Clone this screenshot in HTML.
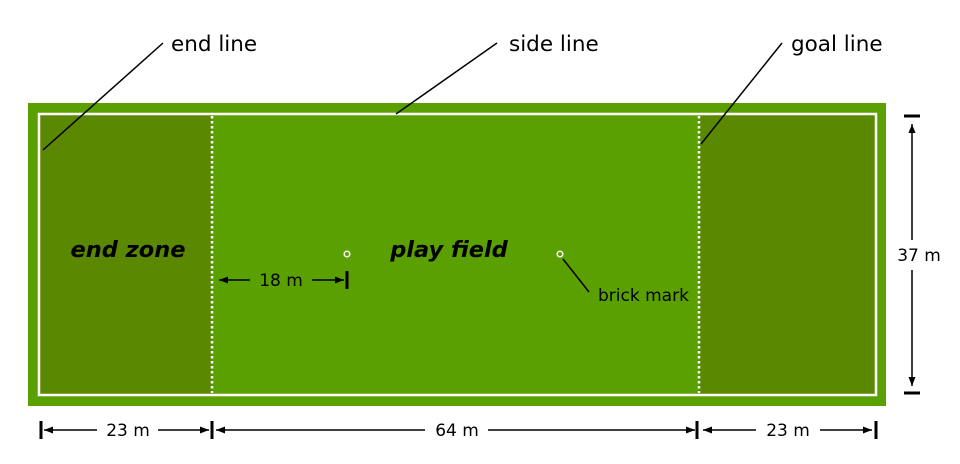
<!DOCTYPE html>
<html><head><meta charset="utf-8"><style>body{margin:0;background:#fff}svg{display:block}</style></head><body>
<svg width="960" height="464" viewBox="0 0 960 464" xmlns="http://www.w3.org/2000/svg" font-family="DejaVu Sans, Liberation Sans, sans-serif">
<defs><marker id="a" markerWidth="9" markerHeight="7" refX="9" refY="3.5" orient="auto" markerUnits="userSpaceOnUse"><path d="M0,0 L9,3.5 L0,7 Z" fill="#000"/></marker></defs>
<rect x="28" y="103" width="858" height="303" fill="#5aa000"/>
<rect x="39" y="114" width="173" height="281" fill="#5a8800"/>
<rect x="699" y="114" width="177" height="281" fill="#5a8800"/>
<rect x="39" y="114" width="837" height="281" fill="none" stroke="#fff" stroke-width="2.5"/>
<line x1="212" y1="116" x2="212" y2="393" stroke="#fff" stroke-width="2.5" stroke-dasharray="2.5,2.5"/>
<line x1="699" y1="116" x2="699" y2="393" stroke="#fff" stroke-width="2.5" stroke-dasharray="2.5,2.5"/>
<circle cx="347" cy="254" r="2.8" fill="none" stroke="#fff" stroke-width="1.5"/>
<circle cx="560" cy="254" r="2.8" fill="none" stroke="#fff" stroke-width="1.5"/>
<g stroke="#000" stroke-width="1.5">
<line x1="163" y1="43" x2="43" y2="150"/>
<line x1="497" y1="43" x2="396" y2="114"/>
<line x1="782" y1="43" x2="701" y2="144"/>
<line x1="563" y1="259" x2="589" y2="292"/>
</g>
<g font-size="21.5" fill="#000">
<text x="171" y="51">end line</text>
<text x="509" y="51">side line</text>
<text x="791" y="51">goal line</text>
</g>
<g font-size="22.5" font-weight="bold" font-style="italic" fill="#000">
<text x="128" y="257" text-anchor="middle">end zone</text>
<text x="449" y="257" text-anchor="middle">play field</text>
</g>
<text x="598" y="301" font-size="17">brick mark</text>
<g stroke="#000" stroke-width="1.5">
<line x1="250" y1="280" x2="219" y2="280" marker-end="url(#a)"/>
<line x1="312" y1="280" x2="344" y2="280" marker-end="url(#a)"/>
<line x1="912" y1="240" x2="912" y2="124" marker-end="url(#a)"/>
<line x1="912" y1="270" x2="912" y2="386" marker-end="url(#a)"/>
<line x1="97" y1="430" x2="44" y2="430" marker-end="url(#a)"/>
<line x1="158" y1="430" x2="209" y2="430" marker-end="url(#a)"/>
<line x1="425" y1="430" x2="216" y2="430" marker-end="url(#a)"/>
<line x1="488" y1="430" x2="695" y2="430" marker-end="url(#a)"/>
<line x1="756" y1="430" x2="703" y2="430" marker-end="url(#a)"/>
<line x1="820" y1="430" x2="872" y2="430" marker-end="url(#a)"/>
</g>
<g stroke="#000" stroke-width="3">
<line x1="347" y1="271" x2="347" y2="289"/>
<line x1="41" y1="421" x2="41" y2="439"/>
<line x1="212" y1="421" x2="212" y2="439"/>
<line x1="697" y1="421" x2="697" y2="439"/>
<line x1="876" y1="421" x2="876" y2="439"/>
<line x1="904" y1="116" x2="920" y2="116"/>
<line x1="904" y1="393" x2="920" y2="393"/>
</g>
<g font-size="17" fill="#000" text-anchor="middle">
<text x="281" y="286">18 m</text>
<text x="919" y="261">37 m</text>
<text x="128" y="436">23 m</text>
<text x="457" y="436">64 m</text>
<text x="788" y="436">23 m</text>
</g>
</svg>
</body></html>
